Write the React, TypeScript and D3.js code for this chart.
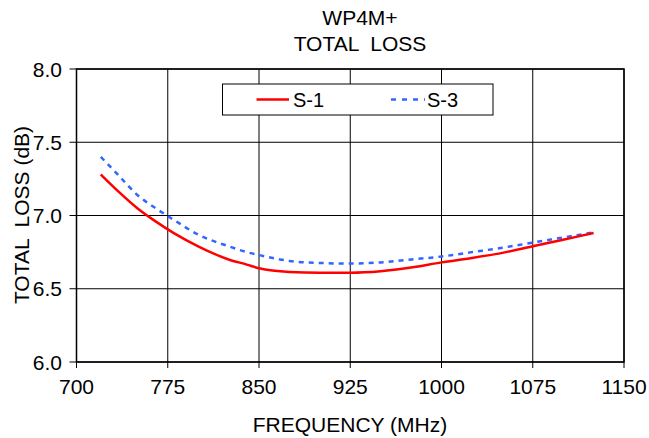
import React from "react";
import * as d3 from "d3";

const freqs = [720, 735, 750, 765, 780, 800, 825, 840, 850, 875, 900, 925, 950, 975, 1000, 1025, 1050, 1075, 1100, 1125];
const s1 = [7.28, 7.16, 7.05, 6.96, 6.88, 6.79, 6.70, 6.665, 6.64, 6.615, 6.61, 6.61, 6.62, 6.645, 6.68, 6.71, 6.745, 6.79, 6.835, 6.88];
const s3 = [7.40, 7.27, 7.14, 7.05, 6.97, 6.87, 6.79, 6.75, 6.73, 6.69, 6.676, 6.672, 6.68, 6.70, 6.72, 6.75, 6.78, 6.815, 6.85, 6.885];
const xTicks = [700, 775, 850, 925, 1000, 1075, 1150];
const yTicks = [6.0, 6.5, 7.0, 7.5, 8.0];
const seriesNames = ["S-1", "S-3"];

const W = 649, H = 438;
const L = 76.5, R = 624, T = 69, B = 362;

export default function App() {
  const x = d3.scaleLinear().domain([700, 1150]).range([L, R]);
  const y = d3.scaleLinear().domain([6, 8]).range([B, T]);
  const line = d3.line<number>().x((_, i) => x(freqs[i])).y((d) => y(d)).curve(d3.curveMonotoneX);
  const font = "'Liberation Sans', Arial, sans-serif";
  const fs = 21;
  return (
    <svg width={W} height={H} style={{ position: "absolute", left: 0, top: 0 }} fontFamily={font}>
      <rect x={0} y={0} width={W} height={H} fill="white" />
      <text x={360} y={25} textAnchor="middle" fontSize={fs}>WP4M+</text>
      <text x={360} y={51} textAnchor="middle" fontSize={fs} style={{ whiteSpace: "pre" }}>{"TOTAL  LOSS"}</text>
      {xTicks.map((t) => (
        <g key={"x" + t}>
          <line x1={x(t)} x2={x(t)} y1={T} y2={B + 6} stroke="black" strokeWidth={1} />
          <text x={x(t)} y={394} textAnchor="middle" fontSize={fs}>{t}</text>
        </g>
      ))}
      {yTicks.map((t) => (
        <g key={"y" + t}>
          <line x1={L - 7} x2={R} y1={y(t)} y2={y(t)} stroke="black" strokeWidth={1} />
          <text x={62} y={y(t) + 7.5} textAnchor="end" fontSize={fs}>{t.toFixed(1)}</text>
        </g>
      ))}
      <rect x={L} y={T} width={R - L} height={B - T} fill="none" stroke="black" strokeWidth={1.5} />
      <path d={line(s3) || ""} fill="none" stroke="#3366ff" strokeWidth={2.5} strokeDasharray="5,5" />
      <path d={line(s1) || ""} fill="none" stroke="#ff0000" strokeWidth={2.5} />
      <g>
        <rect x={222.5} y={84} width={270.5} height={31} fill="white" stroke="black" strokeWidth={1} />
        <line x1={256.5} x2={289} y1={99.5} y2={99.5} stroke="#ff0000" strokeWidth={2.5} />
        <text x={293} y={106.5} fontSize={20}>{seriesNames[0]}</text>
        <line x1={391} x2={425} y1={99.5} y2={99.5} stroke="#3366ff" strokeWidth={2.5} strokeDasharray="5,6" />
        <text x={427} y={106.5} fontSize={20}>{seriesNames[1]}</text>
      </g>
      <text x={350} y={432} textAnchor="middle" fontSize={fs}>FREQUENCY (MHz)</text>
      <text transform="translate(29,215) rotate(-90)" textAnchor="middle" fontSize={fs} style={{ whiteSpace: "pre" }}>{"TOTAL  LOSS (dB)"}</text>
    </svg>
  );
}
